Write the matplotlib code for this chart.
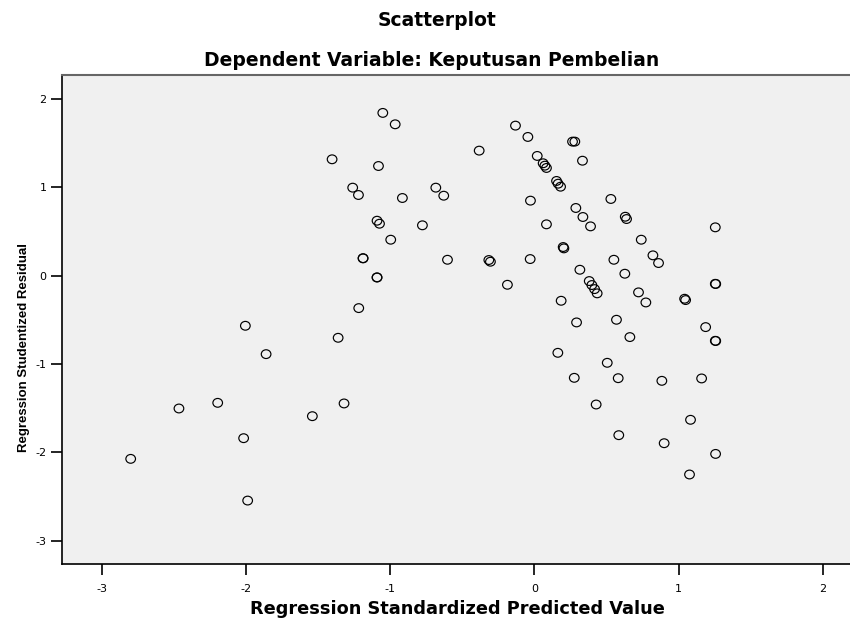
import matplotlib
matplotlib.use("Agg")
import matplotlib.pyplot as plt
from matplotlib.path import Path
from matplotlib.transforms import Affine2D
import numpy as np

plt.rcParams['font.family'] = ['DejaVu Sans']
plt.rcParams['axes.unicode_minus'] = False

# Regression standardized predicted value
pred = [-2.803, -2.468, -2.199, -2.019, -2.007, -1.991, -1.863, -1.542,
        -1.405, -1.363, -1.322, -1.262, -1.222, -1.220, -1.190, -1.190,
        -1.093, -1.093, -1.093, -1.076, -1.083, -1.053, -0.998, -0.967,
        -0.917, -0.778, -0.685, -0.630, -0.604, -0.384, -0.317, -0.306,
        -0.188, -0.132, -0.046, -0.030, -0.028, 0.019, 0.060, 0.072,
        0.083, 0.083, 0.153, 0.164, 0.181, 0.162, 0.185, 0.199,
        0.204, 0.264, 0.280, 0.276, 0.287, 0.292, 0.315, 0.333,
        0.336, 0.380, 0.389, 0.398, 0.417, 0.428, 0.435, 0.505,
        0.530, 0.551, 0.569, 0.581, 0.585, 0.627, 0.630, 0.639,
        0.662, 0.722, 0.741, 0.773, 0.822, 0.861, 0.884, 0.900,
        1.042, 1.049, 1.076, 1.083, 1.160, 1.188, 1.255, 1.255,
        1.258, 1.255, 1.258, 1.257]

# Regression studentized residual
resid = [-2.072, -1.502, -1.438, -1.838, -0.566, -2.544, -0.887, -1.589,
         1.318, -0.702, -1.445, 0.997, 0.914, -0.366, 0.197, 0.199,
         -0.018, -0.020, 0.623, 0.589, 1.242, 1.843, 0.408, 1.714,
         0.880, 0.571, 0.997, 0.906, 0.181, 1.416, 0.178, 0.159,
         -0.102, 1.699, 1.571, 0.189, 0.850, 1.356, 1.273, 1.246,
         1.220, 0.582, 1.073, 1.042, 1.008, -0.872, -0.283, 0.325,
         0.310, 1.518, 1.518, -1.155, 0.767, -0.528, 0.068, 1.302,
         0.665, -0.060, 0.559, -0.105, -0.151, -1.457, -0.199, -0.985,
         0.869, 0.181, -0.498, -1.159, -1.804, 0.023, 0.668, 0.642,
         -0.694, -0.188, 0.408, -0.302, 0.231, 0.144, -1.189, -1.895,
         -0.260, -0.275, -2.249, -1.630, -1.162, -0.581, 0.548, -0.091,
         -0.093, -0.736, -0.738, -2.016]

xticks = [-3, -2, -1, 0, 1, 2]
yticks = [-3, -2, -1, 0, 1, 2]

# the source chart is a little stretched sideways, so its circles are too
ring = Path.unit_circle().transformed(Affine2D().scale(1.1, 1.0))

fig = plt.figure(figsize=(8.5, 6.22), dpi=100)
ax = fig.add_axes([0.0729, 0.0928, 0.9271, 0.7872])
ax.set_facecolor('#f0f0f0')

ax.scatter(pred, resid, s=48, marker=ring, facecolors='none',
           edgecolors='black', linewidths=0.85, zorder=3)

ax.set_xlim(-3.28, 2.19)
ax.set_ylim(-3.265, 2.276)
ax.set_xticks(xticks)
ax.set_yticks(yticks)
ax.tick_params(direction='out', length=8, width=1.2, labelsize=8,
               colors='black', pad=3)
ax.tick_params(axis='x', pad=6)

for side in ['left', 'bottom']:
    ax.spines[side].set_color('black')
    ax.spines[side].set_linewidth(1.2)
ax.spines['top'].set_color('#666666')
ax.spines['top'].set_linewidth(1.5)
ax.spines['right'].set_visible(False)

ax.set_xlabel('Regression Standardized Predicted Value', fontsize=12.75,
              fontweight='bold', va='center')
ax.xaxis.set_label_coords(0.502, (564.3 - 609) / 489.6)
ax.set_ylabel('Regression Studentized Residual', fontsize=9.5,
              fontweight='bold', va='center',
              family=['Liberation Sans Narrow', 'Liberation Sans'])
ax.yaxis.set_label_coords((24 - 62) / 788, (564.3 - 348) / 489.6)

fig.text(437 / 850, 1 - 20 / 622, 'Scatterplot', ha='center', va='center',
         fontsize=13.5, fontweight='bold')
fig.text(432 / 850, 1 - 61 / 622, 'Dependent Variable: Keputusan Pembelian',
         ha='center', va='center', fontsize=13.5, fontweight='bold')

fig.savefig('out.png', dpi=100)
